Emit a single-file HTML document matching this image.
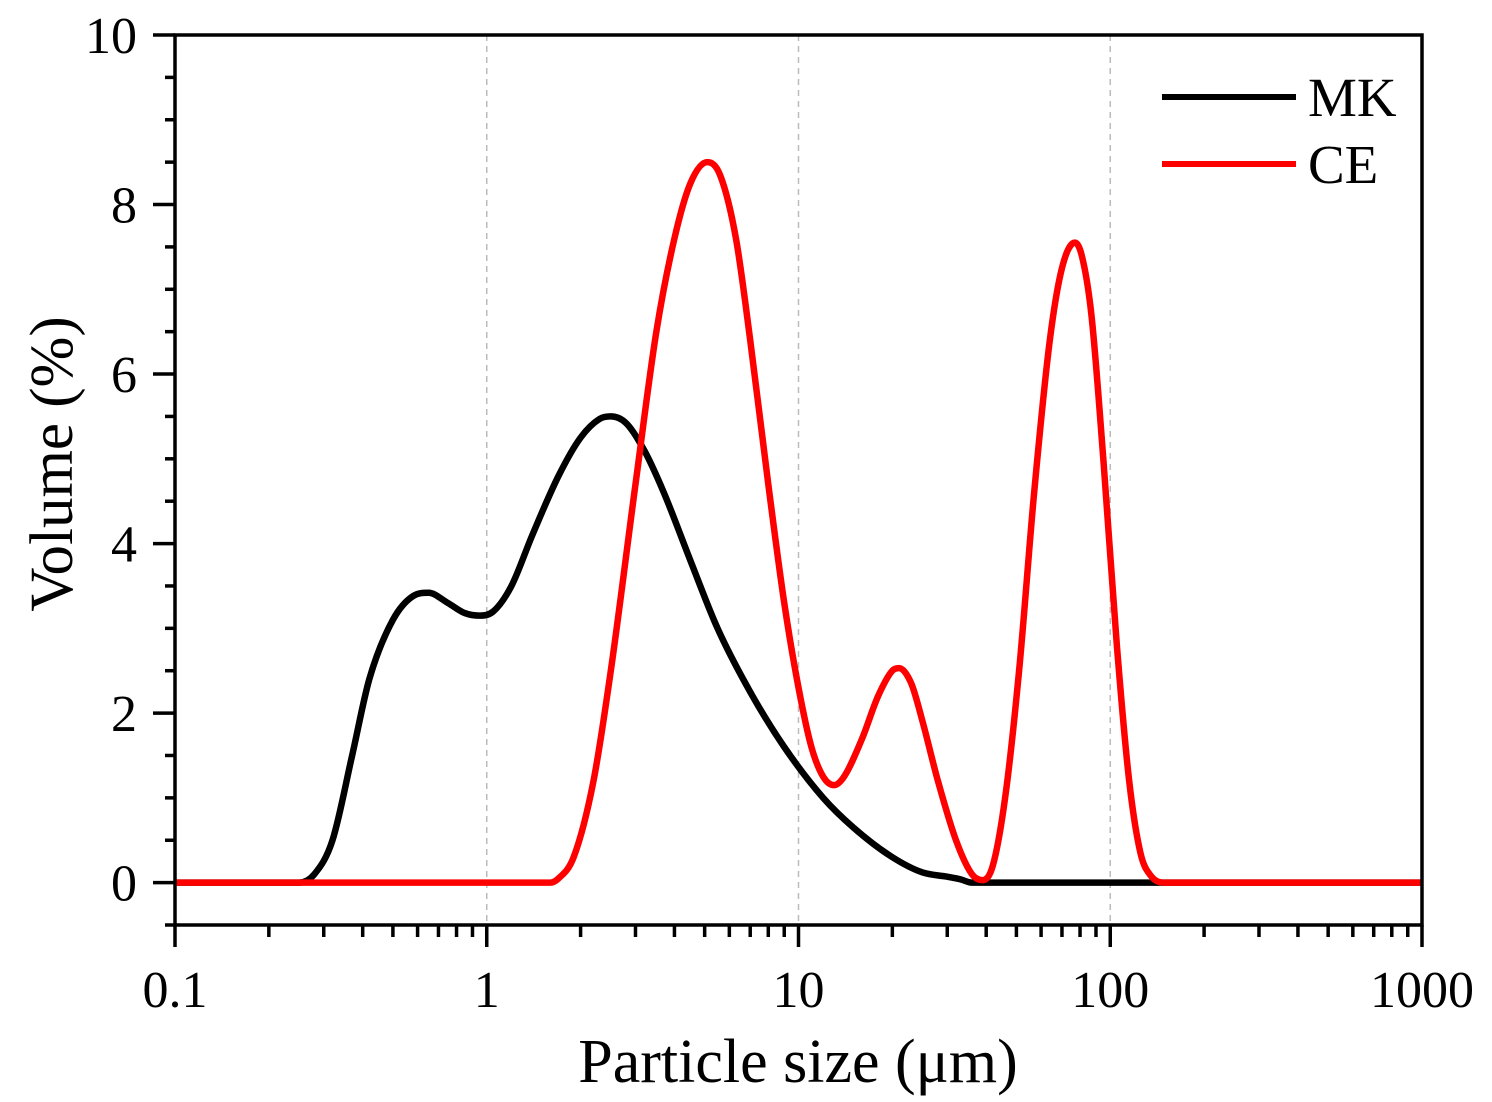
<!DOCTYPE html>
<html><head><meta charset="utf-8"><style>
html,body{margin:0;padding:0;background:#fff}
svg{display:block}
text{font-family:"Liberation Serif",serif;fill:#000}
</style></head><body>
<svg id="chart" width="1492" height="1102" viewBox="0 0 1492 1102">
<g id="grid"></g>
<g id="series"></g>
<g id="axes"></g>
<text x="798" y="1082" font-size="62" text-anchor="middle">Particle size (μm)</text>
<text transform="translate(72,464) rotate(-90)" font-size="61" text-anchor="middle">Volume (%)</text>
<g>
<g><line x1="1162" y1="97" x2="1296" y2="97" stroke="#000" stroke-width="6"/><text x="1308" y="116" font-size="55">MK</text></g>
<g><line x1="1162" y1="164" x2="1296" y2="164" stroke="#f00" stroke-width="6"/><text x="1308" y="183" font-size="55">CE</text></g>
</g>
</svg>
<script>
const mkX=[0.1,0.25,0.28,0.32,0.37,0.42,0.5,0.58,0.65,0.75,0.85,0.95,1.05,1.2,1.4,1.7,2.0,2.3,2.5,2.8,3.2,3.7,4.5,5.5,7,9,12,15,20,25,30,33,36,150,1000];
const mkY=[0,0,0.1,0.5,1.5,2.4,3.1,3.38,3.42,3.3,3.18,3.15,3.2,3.5,4.1,4.8,5.25,5.47,5.5,5.42,5.1,4.6,3.8,3.0,2.25,1.6,1.0,0.65,0.3,0.12,0.07,0.04,0,0,0];
const ceX=[0.1,1.6,1.7,1.9,2.2,2.5,3.0,3.5,4.0,4.5,5.1,5.6,6.3,7.0,8,9,10,11,12,13,14,16,18,20,21,23,25,28,32,36,39,42,46,51,57,64,70,77,81,87,95,105,115,125,135,150,1000];
const ceY=[0,0,0.05,0.3,1.2,2.5,4.7,6.5,7.6,8.25,8.5,8.35,7.6,6.4,4.7,3.3,2.3,1.6,1.25,1.15,1.25,1.7,2.2,2.5,2.53,2.35,1.9,1.2,0.5,0.1,0.03,0.2,1.0,2.5,4.6,6.4,7.25,7.55,7.4,6.7,5.0,2.8,1.2,0.35,0.08,0,0];
const xTickVals=[0.1,1,10,100,1000];
const xTickLabels=["0.1","1","10","100","1000"];
const yTickVals=[0,2,4,6,8,10];
const yTickLabels=["0","2","4","6","8","10"];
const L=175,R=1422,T=35,B=925;
const X=v=>L+(Math.log10(v)+1)/4*(R-L);
const Y=v=>B-(v+0.5)/10.5*(B-T);
const NS="http://www.w3.org/2000/svg";
function mk(tag,attrs,parent){const e=document.createElementNS(NS,tag);for(const k in attrs)e.setAttribute(k,attrs[k]);parent.appendChild(e);return e;}
const grid=document.getElementById('grid'),axes=document.getElementById('axes'),series=document.getElementById('series');
[1,10,100].forEach(v=>{const l=mk('line',{x1:X(v),x2:X(v),y1:T,y2:B,stroke:'#bbb','stroke-width':1.5,'stroke-dasharray':'6,5'},grid);

});
function path(xs,ys){
  const px=xs.map(X),py=ys.map(Y),n=px.length;
  const d=[],m=new Array(n);
  for(let i=0;i<n-1;i++)d.push((py[i+1]-py[i])/(px[i+1]-px[i]));
  m[0]=d[0];m[n-1]=d[n-2];
  for(let i=1;i<n-1;i++){m[i]=(d[i-1]*d[i]<=0)?0:(d[i-1]+d[i])/2;}
  for(let i=0;i<n-1;i++){if(d[i]===0){m[i]=0;m[i+1]=0;continue;}
    const a=m[i]/d[i],b=m[i+1]/d[i],s=a*a+b*b;if(s>9){const t=3/Math.sqrt(s);m[i]=t*a*d[i];m[i+1]=t*b*d[i];}}
  let s=`M${px[0]},${py[0]}`;
  for(let i=0;i<n-1;i++){const h=(px[i+1]-px[i])/3;
    s+=` C${px[i]+h},${py[i]+m[i]*h} ${px[i+1]-h},${py[i+1]-m[i+1]*h} ${px[i+1]},${py[i+1]}`;}
  return s;}
const s1=mk('path',{d:path(mkX,mkY),fill:'none',stroke:'#000','stroke-width':6.5,'stroke-linejoin':'round'},series);


const s2=mk('path',{d:path(ceX,ceY),fill:'none',stroke:'#f00','stroke-width':6.5,'stroke-linejoin':'round'},series);


const box=mk('rect',{x:L,y:T,width:R-L,height:B-T,fill:'none',stroke:'#000','stroke-width':3.5},axes);


for(let d=-1;d<3;d++)for(let m=2;m<10;m++){const v=m*Math.pow(10,d);const t=mk('line',{x1:X(v),x2:X(v),y1:B,y2:B+12,stroke:'#000','stroke-width':3.5},axes);

}
xTickVals.forEach((v,i)=>{const t=mk('line',{x1:X(v),x2:X(v),y1:B,y2:B+22,stroke:'#000','stroke-width':3.5},axes);


const tx=mk('text',{x:X(v),y:1007,'font-size':52,'text-anchor':'middle'},axes);tx.textContent=xTickLabels[i];

});
for(let v=-0.5;v<=10;v+=0.5){if(Math.abs(v/2-Math.round(v/2))<1e-6)continue;const t=mk('line',{x1:L-10,x2:L,y1:Y(v),y2:Y(v),stroke:'#000','stroke-width':3.5},axes);

}
yTickVals.forEach((v,i)=>{const t=mk('line',{x1:L-22,x2:L,y1:Y(v),y2:Y(v),stroke:'#000','stroke-width':3.5},axes);


const tx=mk('text',{x:137,y:Y(v)+18,'font-size':52,'text-anchor':'end'},axes);tx.textContent=yTickLabels[i];

});
</script>
</body></html>
